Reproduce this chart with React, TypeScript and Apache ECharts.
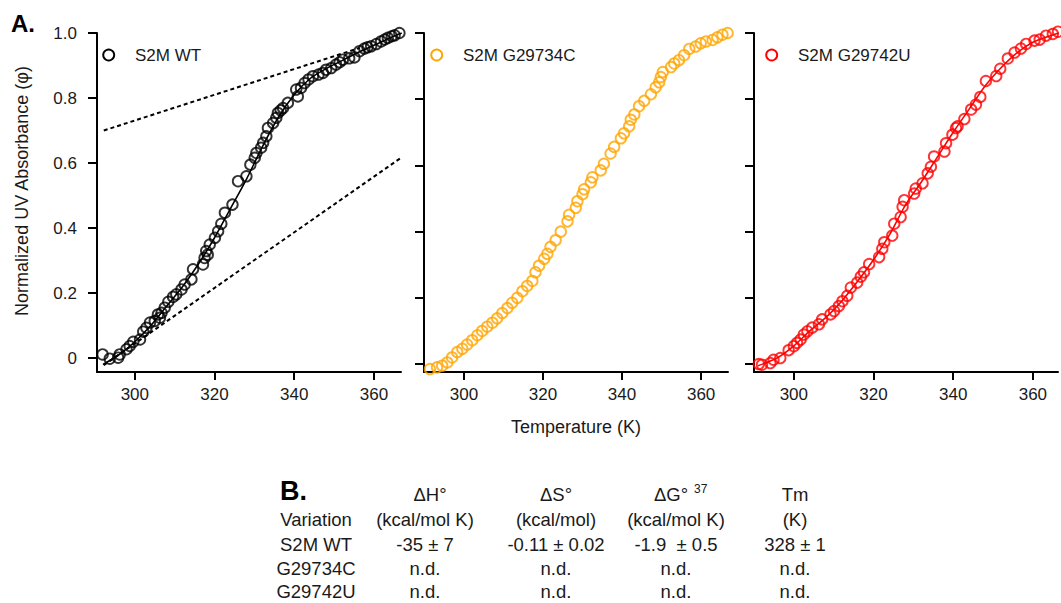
import React, { useEffect, useRef } from "react";
import * as echarts from "echarts";

// ---------- data ----------
const tempTicks = [300, 320, 340, 360];
const absTicks = [0, 0.2, 0.4, 0.6, 0.8, 1.0];

const wtTemp = [291.9, 293.7, 295.8, 296.2, 297.9, 298.7, 299.6, 301.3, 302.1, 302.9, 303.8, 305.0, 305.8, 306.3, 306.7, 307.5, 308.4, 309.6, 310.4, 311.7, 312.5, 314.2, 314.6, 317.1, 317.5, 317.9, 318.3, 318.8, 320.1, 320.9, 321.7, 322.6, 324.5, 325.9, 328.0, 329.0, 330.1, 330.5, 331.7, 332.2, 333.0, 333.4, 334.7, 335.5, 335.9, 336.6, 337.2, 338.4, 340.9, 340.5, 341.7, 342.6, 343.6, 344.7, 346.1, 347.2, 348.0, 349.3, 350.5, 351.4, 352.2, 353.8, 355.1, 356.4, 357.6, 358.4, 359.3, 360.6, 361.8, 362.7, 363.5, 364.5, 365.2, 366.4];
const wtAbs = [0.011, -0.002, 0.001, 0.011, 0.027, 0.037, 0.050, 0.057, 0.081, 0.093, 0.109, 0.114, 0.134, 0.124, 0.139, 0.155, 0.173, 0.188, 0.196, 0.211, 0.226, 0.242, 0.273, 0.288, 0.308, 0.329, 0.318, 0.349, 0.370, 0.390, 0.413, 0.447, 0.472, 0.544, 0.559, 0.595, 0.616, 0.631, 0.647, 0.662, 0.682, 0.708, 0.723, 0.739, 0.754, 0.762, 0.769, 0.785, 0.805, 0.826, 0.831, 0.846, 0.857, 0.867, 0.872, 0.877, 0.887, 0.892, 0.903, 0.910, 0.918, 0.922, 0.925, 0.944, 0.952, 0.956, 0.959, 0.966, 0.974, 0.980, 0.985, 0.990, 0.993, 1.000];

const wtFitTemp = [292, 296, 300, 304, 308, 312, 316, 320, 324, 328, 332, 336, 340, 344, 348, 352, 356, 360, 364, 367];
const wtFitAbs = [-0.02, 0.01, 0.05, 0.1, 0.16, 0.22, 0.29, 0.37, 0.46, 0.55, 0.65, 0.74, 0.81, 0.86, 0.89, 0.915, 0.94, 0.962, 0.985, 1.0];

const wtUpperTemp = [292.2, 356.4];
const wtUpperAbs = [0.70, 0.954];
const wtLowerTemp = [292.2, 366.8];
const wtLowerAbs = [-0.022, 0.616];

const cTemp = [291.4, 293.2, 294.5, 295.8, 297.0, 298.3, 299.6, 300.8, 302.1, 303.4, 304.6, 305.9, 307.2, 308.4, 309.7, 311.0, 312.2, 313.5, 314.8, 316.0, 317.3, 318.1, 319.0, 320.3, 321.1, 321.9, 323.2, 324.5, 326.2, 326.6, 328.3, 328.7, 330.0, 330.4, 332.1, 332.5, 334.6, 335.4, 337.1, 338.0, 339.7, 340.5, 341.8, 342.2, 343.1, 344.3, 345.6, 347.3, 348.5, 349.4, 349.8, 350.3, 352.4, 353.2, 354.4, 355.7, 357.0, 358.6, 359.9, 361.2, 362.9, 364.1, 365.4, 366.7];
const cAbs = [-0.015, -0.010, -0.005, 0.005, 0.020, 0.036, 0.046, 0.059, 0.072, 0.087, 0.100, 0.113, 0.125, 0.138, 0.154, 0.169, 0.185, 0.200, 0.220, 0.236, 0.251, 0.277, 0.297, 0.318, 0.333, 0.354, 0.374, 0.400, 0.431, 0.451, 0.472, 0.492, 0.513, 0.528, 0.549, 0.564, 0.585, 0.605, 0.636, 0.656, 0.682, 0.697, 0.718, 0.738, 0.754, 0.779, 0.795, 0.815, 0.836, 0.851, 0.867, 0.882, 0.897, 0.908, 0.918, 0.933, 0.952, 0.959, 0.969, 0.974, 0.979, 0.987, 0.995, 1.000];

const uTemp = [291.2, 292.0, 294.1, 294.9, 296.6, 298.7, 300.0, 300.8, 301.7, 302.5, 303.4, 304.6, 306.3, 307.1, 309.2, 310.1, 311.3, 312.2, 313.4, 314.3, 315.9, 316.8, 317.6, 318.9, 321.4, 322.2, 322.7, 324.7, 325.2, 326.8, 327.3, 327.7, 330.2, 330.6, 332.3, 333.6, 334.4, 335.2, 337.8, 338.2, 339.8, 340.7, 341.1, 342.8, 344.5, 345.7, 346.8, 348.2, 350.8, 351.8, 353.7, 355.4, 357.0, 358.3, 360.4, 361.7, 363.3, 365.0, 366.3];
const uAbs = [0.000, -0.002, 0.003, 0.013, 0.018, 0.042, 0.054, 0.064, 0.074, 0.089, 0.099, 0.110, 0.120, 0.135, 0.150, 0.160, 0.175, 0.190, 0.206, 0.231, 0.246, 0.264, 0.277, 0.302, 0.323, 0.348, 0.368, 0.388, 0.424, 0.444, 0.475, 0.495, 0.515, 0.530, 0.546, 0.576, 0.596, 0.627, 0.642, 0.667, 0.693, 0.713, 0.718, 0.740, 0.769, 0.784, 0.807, 0.855, 0.870, 0.892, 0.923, 0.941, 0.953, 0.967, 0.977, 0.980, 0.992, 0.997, 1.004];

const uFitTemp = [291, 296, 300, 304, 308, 312, 316, 320, 324, 328, 332, 336, 340, 344, 348, 352, 356, 360, 364, 366.5];
const uFitAbs = [-0.005, 0.02, 0.055, 0.1, 0.14, 0.19, 0.25, 0.315, 0.39, 0.48, 0.55, 0.625, 0.7, 0.77, 0.84, 0.895, 0.94, 0.972, 0.99, 1.0];

const seriesNames = ["S2M WT", "S2M G29734C", "S2M G29742U"];
const seriesColors = ["#000000", "#FFA500", "#FF0000"];

const tableHeader1 = ["ΔH°", "ΔS°", "ΔG°", "Tm"];
const tableHeader2 = ["Variation", "(kcal/mol K)", "(kcal/mol)", "(kcal/mol K)", "(K)"];
const tableRows = [
  ["S2M WT", "-35 ± 7", "-0.11 ± 0.02", "-1.9  ± 0.5", "328 ± 1"],
  ["G29734C", "n.d.", "n.d.", "n.d.", "n.d."],
  ["G29742U", "n.d.", "n.d.", "n.d.", "n.d."],
];

const zip = (a: number[], b: number[]) => a.map((v, i) => [v, b[i]]);

const FONT = "'Liberation Sans', Arial, Helvetica, sans-serif";
const TXT = "#1a1a1a";

export default function App() {
  const ref = useRef<HTMLDivElement>(null);
  useEffect(() => {
    if (!ref.current) return;
    const chart = echarts.init(ref.current, null, { renderer: "svg" });

    const grids = [
      { left: 97, top: 33, width: 304, height: 339 },
      { left: 424, top: 33, width: 304, height: 339 },
      { left: 754, top: 33, width: 304, height: 339 },
    ];
    const xRanges = [
      [290.5, 366.8],
      [289.9, 366.8],
      [290.0, 366.3],
    ];
    const yMins = [-0.043, -0.024, -0.024];

    const xAxes = grids.map((_, i) => ({
      type: "value",
      gridIndex: i,
      min: xRanges[i][0],
      max: xRanges[i][1],
      splitLine: { show: false },
      axisLine: { show: true, onZero: false, lineStyle: { color: "#000", width: 2 } },
      axisTick: { show: true, length: 8, lineStyle: { color: "#000", width: 2 }, customValues: tempTicks },
      axisLabel: {
        customValues: tempTicks,
        fontSize: 17,
        fontFamily: FONT,
        color: TXT,
        margin: 14,
      },
    }));
    const yAxes = grids.map((_, i) => ({
      type: "value",
      gridIndex: i,
      min: yMins[i],
      max: 1.0,
      splitLine: { show: false },
      axisLine: { show: true, onZero: false, lineStyle: { color: "#000", width: 2 } },
      axisTick: { show: true, length: 9, lineStyle: { color: "#000", width: 2 }, customValues: absTicks },
      axisLabel: {
        show: i === 0,
        customValues: absTicks,
        fontSize: 17,
        fontFamily: FONT,
        color: TXT,
        margin: 20,
        formatter: (v: number) => (Math.abs(v) < 1e-9 ? "0" : v.toFixed(1)),
      },
    }));

    const scatterStyle = (c: string) => ({
      color: "rgba(0,0,0,0)",
      borderColor: c,
      borderWidth: 1.9,
    });

    const series: any[] = [
      {
        type: "line",
        name: "WT upper baseline",
        xAxisIndex: 0,
        yAxisIndex: 0,
        data: zip(wtUpperTemp, wtUpperAbs),
        symbol: "none",
        lineStyle: { color: "#000", width: 2, type: [4, 3] },
        silent: true,
      },
      {
        type: "line",
        name: "WT lower baseline",
        xAxisIndex: 0,
        yAxisIndex: 0,
        data: zip(wtLowerTemp, wtLowerAbs),
        symbol: "none",
        lineStyle: { color: "#000", width: 2, type: [4, 3] },
        silent: true,
      },
      {
        type: "line",
        name: "WT fit",
        xAxisIndex: 0,
        yAxisIndex: 0,
        data: zip(wtFitTemp, wtFitAbs),
        symbol: "none",
        smooth: 0.3,
        lineStyle: { color: "#000", width: 1.6 },
      },
      {
        type: "scatter",
        name: seriesNames[0],
        xAxisIndex: 0,
        yAxisIndex: 0,
        data: zip(wtTemp, wtAbs),
        symbol: "circle",
        symbolSize: 10.5,
        clip: false,
        itemStyle: scatterStyle(seriesColors[0]),
      },
      {
        type: "scatter",
        name: seriesNames[1],
        xAxisIndex: 1,
        yAxisIndex: 1,
        data: zip(cTemp, cAbs),
        symbol: "circle",
        symbolSize: 10.5,
        clip: false,
        itemStyle: scatterStyle(seriesColors[1]),
      },
      {
        type: "line",
        name: "G29742U fit",
        xAxisIndex: 2,
        yAxisIndex: 2,
        data: zip(uFitTemp, uFitAbs),
        symbol: "none",
        smooth: 0.3,
        lineStyle: { color: seriesColors[2], width: 1.6 },
      },
      {
        type: "scatter",
        name: seriesNames[2],
        xAxisIndex: 2,
        yAxisIndex: 2,
        data: zip(uTemp, uAbs),
        symbol: "circle",
        symbolSize: 10.5,
        clip: false,
        itemStyle: scatterStyle(seriesColors[2]),
      },
    ];

    const txt = (text: string, x: number, y: number, opts: any = {}) => ({
      type: "text",
      x,
      y,
      rotation: opts.rotation || 0,
      style: {
        text,
        fontSize: opts.fontSize || 18.5,
        fontFamily: FONT,
        fontWeight: opts.fontWeight || "normal",
        fill: opts.fill || TXT,
        align: opts.align || "center",
        verticalAlign: "middle",
      },
    });

    const legendX = [
      [108.7, 135],
      [436.7, 463],
      [771.7, 798],
    ];
    const legendEls: any[] = [];
    seriesNames.forEach((n, i) => {
      legendEls.push({
        type: "circle",
        shape: { cx: legendX[i][0], cy: 55, r: 5.5 },
        style: { fill: "none", stroke: seriesColors[i], lineWidth: 1.9 },
      });
      legendEls.push(txt(n, legendX[i][1], 55, { fontSize: 17, align: "left" }));
    });

    const colX = [316, 425, 556, 676, 795];
    const rowY = [494, 519.5, 544, 568, 591.5];
    const tableEls: any[] = [];
    tableEls.push(txt("B.", 280, 491, { fontSize: 27, fontWeight: "bold", align: "left", fill: "#000" }));
    tableEls.push(txt(tableHeader1[0], 430, rowY[0]));
    tableEls.push(txt(tableHeader1[1], colX[2], rowY[0]));
    tableEls.push(txt(tableHeader1[2], 671, rowY[0]));
    tableEls.push(txt("37", 694, 489, { fontSize: 12, align: "left" }));
    tableEls.push(txt(tableHeader1[3], colX[4], rowY[0]));
    tableHeader2.forEach((t, j) => tableEls.push(txt(t, colX[j], rowY[1])));
    tableRows.forEach((row, r) =>
      row.forEach((t, j) => tableEls.push(txt(t, colX[j], rowY[r + 2])))
    );

    const graphic: any[] = [
      txt("A.", 11, 23, { fontSize: 24, fontWeight: "bold", align: "left", fill: "#000" }),
      txt("Normalized UV Absorbance (φ)", 22, 191, { fontSize: 18, rotation: Math.PI / 2 }),
      txt("Temperature (K)", 576, 427, { fontSize: 18 }),
      ...legendEls,
      ...tableEls,
    ];

    chart.setOption({
      animation: false,
      backgroundColor: "#ffffff",
      grid: grids,
      xAxis: xAxes,
      yAxis: yAxes,
      series,
      graphic,
    });
    return () => chart.dispose();
  }, []);
  return (
    <div
      ref={ref}
      style={{ position: "fixed", left: 0, top: 0, width: 1061, height: 603 }}
    />
  );
}
